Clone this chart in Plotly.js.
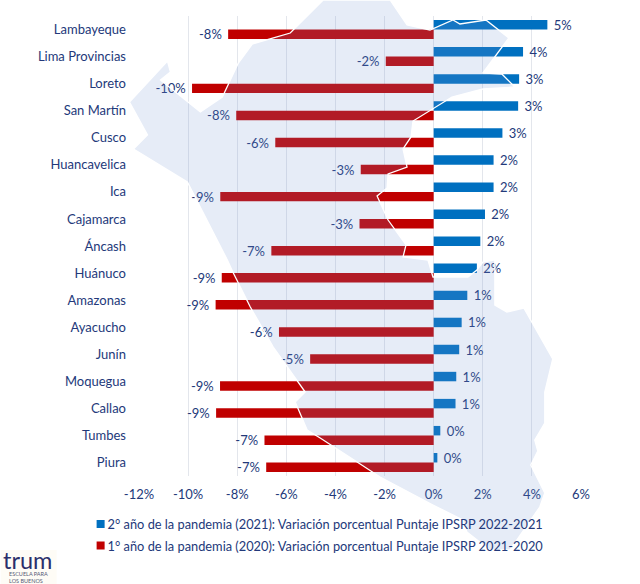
<!DOCTYPE html>
<html>
<head>
<meta charset="utf-8">
<script src="https://cdn.plot.ly/plotly-3.0.1.min.js"></script>
<style>html,body{margin:0;padding:0;background:#fff}#chart{width:640px;height:584px}</style>
</head>
<body>
<div id="chart"></div>
<script>
const categories = ["Lambayeque","Lima Provincias","Loreto","San Martín","Cusco","Huancavelica","Ica","Cajamarca","Áncash","Huánuco","Amazonas","Ayacucho","Junín","Moquegua","Callao","Tumbes","Piura"];
const year2021 = [4.63,3.64,3.48,3.44,2.80,2.44,2.44,2.09,1.90,1.76,1.37,1.14,1.04,0.92,0.89,0.27,0.15];
const year2020 = [-8.37,-1.95,-9.84,-8.04,-6.45,-2.97,-8.69,-3.02,-6.61,-8.63,-8.88,-6.30,-5.03,-8.70,-8.86,-6.89,-6.82];
const name2021 = "2° año de la pandemia (2021): Variación porcentual Puntaje IPSRP 2022-2021";
const name2020 = "1° año de la pandemia (2020): Variación porcentual Puntaje IPSRP 2021-2020";
const xTicks = [-12,-10,-8,-6,-4,-2,0,2,4,6];
// Decorative background map of Peru, traced in page pixels
const mapOutlineX = [323,290,252,238,222,200,160,170,167,129,147,133,187,227,233,250,273,305,295,307,320,357,380,433,463,467,490,510,540,545,531,538,535,545,545,553,524,507,495,495,483,477,468,433,428,403,406,388,377,387,388,407,403,411,413,452,483,515,502,483,509,486,460,453,430,407,390];
const mapOutlineY = [0,33,44,63,97,112,80,72,61,102,135,149,182,260,273,307,347,392,402,430,438,462,477,505,520,532,550,550,507,493,465,451,440,423,392,359,308,312,305,260,262,270,277,277,260,257,245,220,196,188,174,167,149,137,121,97,89,87,74,73,38,20,24,20,30,25,0];

const M = {l:138.5, r:58.7, t:16, b:108};
const W = 640, H = 584;
const px = v => ((v - M.l) / (W - M.l - M.r)).toFixed(4);
const py = v => (1 - (v - M.t) / (H - M.t - M.b)).toFixed(4);
const mapPath = 'M' + mapOutlineX.map((x,i) => px(x) + ',' + py(mapOutlineY[i])).join('L') + 'Z';

const navy = '#23397A';
const font = 'Lato, Carlito, "Open Sans", sans-serif';
const traces = [
  {type:'bar', orientation:'h', name:name2021, y:categories, x:year2021, marker:{color:'#0070C0'},
   texttemplate:'\u00a0%{x:.0f}%', textposition:'outside', constraintext:'none', cliponaxis:false, textfont:{color:navy,size:13,family:font},
   legendgroup:'a', hoverinfo:'y+x'},
  {type:'bar', orientation:'h', name:name2020, y:categories, x:year2020, marker:{color:'#C00000'},
   texttemplate:'%{x:.0f}%\u00a0', textposition:'outside', constraintext:'none', cliponaxis:false, textfont:{color:navy,size:13,family:font},
   legendgroup:'b', hoverinfo:'y+x'}
];
const layout = {
  width:W, height:H, margin:M, paper_bgcolor:'#fff', plot_bgcolor:'#fff',
  barmode:'group', bargap:0.3, bargroupgap:0,
  font:{family:font, color:navy, size:13},
  xaxis:{range:[-12,6], tickvals:xTicks, ticktext:xTicks.map(v=>v+'%'), showgrid:true, gridcolor:'#E3E6EC', gridwidth:1,
         zeroline:false, showline:false, ticks:'', tickfont:{size:13,color:navy,family:font}, ticklabelstandoff:9},
  yaxis:{type:'category', autorange:'reversed', categoryorder:'array', categoryarray:categories, showgrid:false, zeroline:false,
         showline:false, ticks:'', automargin:false, tickfont:{size:13,color:navy,family:font}, ticklabelstandoff:12},
  showlegend:true,
  legend:{orientation:'v', x:-0.1615, xanchor:'left', y:-0.072, yanchor:'top', tracegroupgap:2, traceorder:'grouped',
          bgcolor:'rgba(0,0,0,0)', font:{size:12.8,color:navy,family:font}},
  shapes:[
    {type:'path', xref:'paper', yref:'paper', path:mapPath, layer:'above', fillcolor:'rgba(116,150,211,0.18)',
     line:{color:'#FFFFFF', width:1.3}},
    {type:'rect', xref:'paper', yref:'paper', x0:px(0), x1:px(56), y0:py(550), y1:py(584), layer:'below',
     fillcolor:'#FEFCF6', line:{width:0}}
  ],
  annotations:[
    {xref:'paper', yref:'paper', x:px(0), y:py(560), xanchor:'left', yanchor:'middle', text:'trum', showarrow:false,
     font:{family:font, size:23.5, color:'#2B2F6B'}},
    {xref:'paper', yref:'paper', x:px(6), y:py(577), xanchor:'left', yanchor:'middle', align:'left', text:'ESCUELA PARA<br>LOS BUENOS',
     showarrow:false, font:{family:font, size:5.5, color:'#555A75'}}
  ]
};
Plotly.newPlot('chart', traces, layout, {displayModeBar:false, staticPlot:true}).then(() => {
  // Legend swatches in the reference are smaller and sit right next to the text
  document.querySelectorAll('.legend .legendbar path, .legend .legendpoints path').forEach(p => {
    p.setAttribute('d', 'M4,4H-4V-4H4Z');
    p.setAttribute('transform', 'translate(33,0)');
  });
});
</script>
</body>
</html>
